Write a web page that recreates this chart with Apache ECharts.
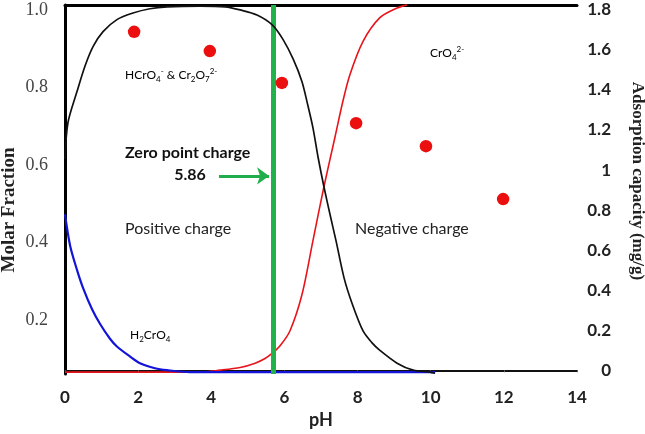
<!DOCTYPE html>
<html>
<head>
<meta charset="utf-8">
<script src="https://cdn.jsdelivr.net/npm/echarts@6/dist/echarts.min.js"></script>
<style>
html,body{margin:0;padding:0;background:#fff;}
#chart{width:645px;height:434px;}
</style>
</head>
<body>
<div id="chart"></div>
<script>
// ---- data ----
const phTicks = [0, 2, 4, 6, 8, 10, 12, 14];
const fractionTicks = [0.2, 0.4, 0.6, 0.8, 1.0];
const capacityTicks = [0, 0.2, 0.4, 0.6, 0.8, 1.0, 1.2, 1.4, 1.6, 1.8];

// HCrO4- & Cr2O7 2- (black)
const blackPH   = [0, 0.08, 0.33, 0.55, 0.77, 1.04, 1.42, 1.86, 2.32, 2.79, 3.69, 4.38, 4.79, 5.25, 5.66, 5.96, 6.24, 6.48, 6.64, 6.78, 6.92, 7.08, 7.25, 7.41, 7.63, 7.85, 8.15, 8.39, 8.61, 9.08, 9.52, 9.98, 10.12];
const blackFrac = [0.615, 0.709, 0.790, 0.856, 0.906, 0.944, 0.975, 0.992, 1.003, 1.008, 1.010, 1.008, 1.000, 0.987, 0.962, 0.924, 0.873, 0.815, 0.754, 0.696, 0.620, 0.544, 0.471, 0.405, 0.309, 0.243, 0.172, 0.142, 0.122, 0.089, 0.071, 0.066, 0.063];

// CrO4 2- (red)
const redPH   = [0, 3.69, 4.24, 4.79, 5.20, 5.47, 5.66, 5.88, 6.15, 6.48, 6.78, 7.08, 7.38, 7.60, 7.79, 8.15, 8.61, 9.08, 9.35];
const redFrac = [0.066, 0.066, 0.071, 0.078, 0.089, 0.101, 0.114, 0.134, 0.172, 0.266, 0.405, 0.544, 0.671, 0.765, 0.833, 0.919, 0.980, 1.005, 1.013];

// H2CrO4 (blue)
const bluePH   = [0, 0.14, 0.33, 0.49, 0.74, 0.96, 1.23, 1.42, 1.78, 2.05, 2.46, 2.79, 3.42, 10.12];
const blueFrac = [0.473, 0.392, 0.329, 0.284, 0.228, 0.190, 0.152, 0.132, 0.106, 0.089, 0.076, 0.071, 0.066, 0.066];

// Adsorption capacity (red dots)
const adsPH  = [1.89, 3.96, 5.93, 7.96, 9.87, 11.98];
const adsCap = [1.690, 1.594, 1.435, 1.234, 1.119, 0.855];

// Zero point charge
const zpcPH = 5.7;
const zpcLabel = '5.86';

// ---- chart ----
const zip = (a, b) => a.map((v, i) => [v, b[i]]);
const sans = 'Lato, "Liberation Sans", sans-serif';
const serif = '"Liberation Serif", "DejaVu Serif", serif';

const chart = echarts.init(document.getElementById('chart'), null, {renderer: 'canvas'});

const subRich = {
  n: {fontFamily: sans, fontSize: 12, color: '#333', lineHeight: 16},
  sb: {fontFamily: sans, fontSize: 8, color: '#333', lineHeight: 8, verticalAlign: 'bottom'},
  sp: {fontFamily: sans, fontSize: 8, color: '#333', lineHeight: 8, verticalAlign: 'top'}
};

const option = {
  animation: false,
  backgroundColor: '#ffffff',
  grid: {left: 65, right: 68, top: 5, bottom: 53, containLabel: false},
  xAxis: [
    {
      type: 'value', min: phTicks[0], max: phTicks[phTicks.length - 1], interval: 2,
      position: 'bottom',
      axisLine: {show: true, lineStyle: {color: '#111', width: 2}},
      axisTick: {show: true, length: 2, inside: false, lineStyle: {color: '#666', width: 1}},
      splitLine: {show: false},
      axisLabel: {fontFamily: sans, fontWeight: 'bold', fontSize: 17, color: '#222', margin: 15},
      name: 'pH', nameLocation: 'middle', nameGap: 31,
      nameTextStyle: {fontFamily: sans, fontWeight: 'bold', fontSize: 18, color: '#222'}
    },
    {
      type: 'value', min: phTicks[0], max: phTicks[phTicks.length - 1],
      position: 'top',
      axisLine: {show: true, lineStyle: {color: '#000', width: 3}},
      axisTick: {show: false}, axisLabel: {show: false}, splitLine: {show: false}
    }
  ],
  yAxis: [
    {
      type: 'value', min: 0.0608, max: 1.0127, position: 'left',
      axisLine: {show: true, lineStyle: {color: '#888', width: 1}},
      axisTick: {show: false},
      splitLine: {show: false},
      axisLabel: {
        customValues: fractionTicks,
        formatter: v => Number(v).toFixed(1),
        fontFamily: serif, fontSize: 18, color: '#444', margin: 17
      }
    },
    {
      type: 'value', min: -0.019, max: 1.824, position: 'right',
      axisLine: {show: true, lineStyle: {color: '#000', width: 3}},
      axisTick: {show: false},
      splitLine: {show: false},
      axisLabel: {
        customValues: capacityTicks,
        formatter: v => String(Number(Number(v).toFixed(1))),
        fontFamily: sans, fontWeight: 'bold', fontSize: 17, color: '#222',
        align: 'right', margin: 34
      }
    }
  ],
  series: [
    {
      type: 'line', name: 'CrO4', xAxisIndex: 0, yAxisIndex: 0,
      data: zip(redPH, redFrac), smooth: 0.3, showSymbol: false, symbol: 'none',
      lineStyle: {color: '#e8141b', width: 1.6}, z: 3
    },
    {
      type: 'line', name: 'H2CrO4', xAxisIndex: 0, yAxisIndex: 0,
      data: zip(bluePH, blueFrac), smooth: 0.3, showSymbol: false, symbol: 'none',
      lineStyle: {color: '#1414d8', width: 2.2}, z: 4
    },
    {
      type: 'line', name: 'HCrO4', xAxisIndex: 0, yAxisIndex: 0,
      data: zip(blackPH, blackFrac), smooth: 0.3, showSymbol: false, symbol: 'none',
      lineStyle: {color: '#111', width: 1.7}, z: 5,
      markLine: {
        silent: true, animation: false,
        symbol: ['none', 'arrow'], symbolSize: [13, 12],
        label: {show: false},
        lineStyle: {color: '#1fae4b', width: 3, type: 'solid'},
        data: [[{coord: [4.21, 0.572]}, {coord: [5.58, 0.572]}]]
      }
    },
    {
      type: 'scatter', name: 'Adsorption', xAxisIndex: 0, yAxisIndex: 1,
      data: zip(adsPH, adsCap), symbol: 'circle', symbolSize: 12.5,
      itemStyle: {color: '#ec0f0f', opacity: 1}, z: 6,
      markLine: {
        silent: true, animation: false, symbol: 'none',
        label: {show: false},
        lineStyle: {color: '#22b24c', width: 5, type: 'solid'},
        data: [{xAxis: zpcPH}]
      }
    }
  ],
  graphic: [
    {
      type: 'text', x: 9, y: 210, rotation: Math.PI / 2,
      style: {text: 'Molar Fraction', font: 'bold 19px ' + serif, fill: '#222',
        align: 'center', verticalAlign: 'middle', textAlign: 'center', textVerticalAlign: 'middle'}
    },
    {
      type: 'text', x: 637, y: 181, rotation: -Math.PI / 2,
      style: {text: 'Adsorption capacity (mg/g)', font: 'bold 17px ' + serif, fill: '#222',
        align: 'center', verticalAlign: 'middle', textAlign: 'center', textVerticalAlign: 'middle'}
    },
    {
      type: 'text', x: 125, y: 75,
      style: {
        text: '{n|HCrO}{sb|4}{sp|-}{n| & Cr}{sb|2}{n|O}{sb|7}{sp|2-}',
        verticalAlign: 'middle', textVerticalAlign: 'middle', rich: subRich
      }
    },
    {
      type: 'text', x: 430, y: 53,
      style: {
        text: '{n|CrO}{sb|4}{sp|2-}',
        verticalAlign: 'middle', textVerticalAlign: 'middle', rich: subRich
      }
    },
    {
      type: 'text', x: 130, y: 335,
      style: {
        text: '{n|H}{sb|2}{n|CrO}{sb|4}',
        verticalAlign: 'middle', textVerticalAlign: 'middle', rich: subRich
      }
    },
    {
      type: 'text', x: 125, y: 153,
      style: {text: 'Zero point charge', font: 'bold 16px ' + sans, fill: '#111',
        verticalAlign: 'middle', textVerticalAlign: 'middle'}
    },
    {
      type: 'text', x: 190, y: 175,
      style: {text: zpcLabel, font: 'bold 16px ' + sans, fill: '#111',
        align: 'center', textAlign: 'center', verticalAlign: 'middle', textVerticalAlign: 'middle'}
    },
    {
      type: 'text', x: 125, y: 229,
      style: {text: 'Positive charge', font: '16px ' + sans, fill: '#222',
        verticalAlign: 'middle', textVerticalAlign: 'middle'}
    },
    {
      type: 'text', x: 355, y: 229,
      style: {text: 'Negative charge', font: '16px ' + sans, fill: '#222',
        verticalAlign: 'middle', textVerticalAlign: 'middle'}
    }
  ]
};
chart.setOption(option);
</script>
</body>
</html>
